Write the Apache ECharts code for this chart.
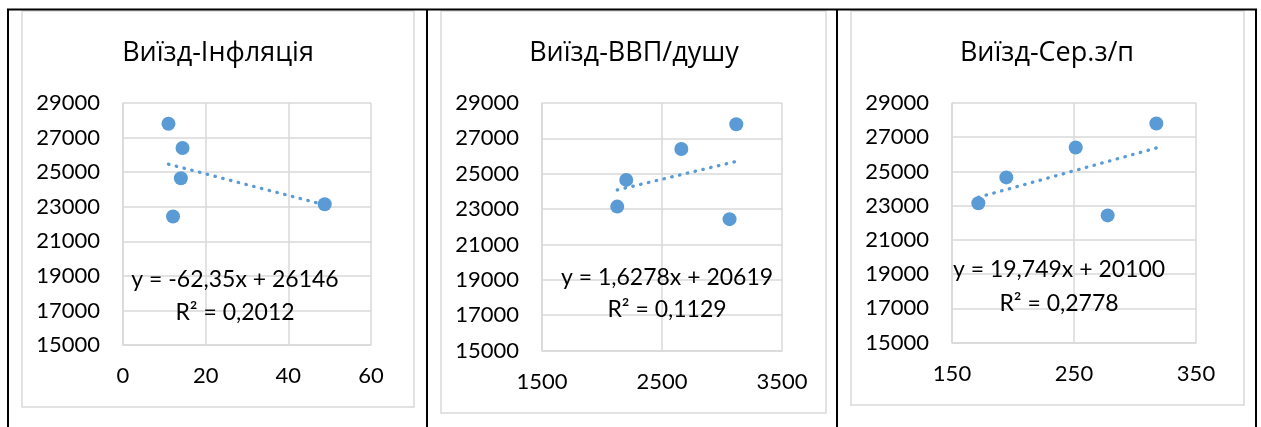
<!DOCTYPE html>
<html><head><meta charset="utf-8">
<script src="https://cdn.jsdelivr.net/npm/echarts@6/dist/echarts.min.js"></script>
<style>html,body{margin:0;padding:0;background:#fff}#c{width:1261px;height:427px}</style>
</head><body><div id="c"></div>
<script>
// Data
const titles = ['Виїзд-Інфляція', 'Виїзд-ВВП/душу', 'Виїзд-Сер.з/п'];
const exits = [27800, 26400, 24650, 22430, 23140];
const inflation = [11.0, 14.4, 14.0, 12.1, 48.8];
const gdpPerCapita = [3119, 2661, 2202, 3063, 2127];
const avgSalary = [317.5, 251.4, 194.5, 277.6, 171.6];
const trendInflation = [[11.0, 25460], [48.8, 23103]];
const trendGdp = [[2127, 24081], [3119, 25696]];
const trendSalary = [[171.6, 23489], [317.5, 26370]];
const equations = ['y = -62,35x + 26146', 'y = 1,6278x + 20619', 'y = 19,749x + 20100'];
const rSquared = ['R² = 0,2012', 'R² = 0,1129', 'R² = 0,2778'];
const xMins = [0, 1500, 150];
const xMaxs = [60, 3500, 350];
const xIntervals = [20, 1000, 100];
const yMin = 15000, yMax = 29000, yInterval = 2000;

const xs = [inflation, gdpPerCapita, avgSalary];
const trends = [trendInflation, trendGdp, trendSalary];

const BLUE = '#5B9BD5';
const GRID = '#D9D9D9';
const FONT = 'Lato, "Open Sans", sans-serif';

const grids = [
  {left: 123, top: 103, width: 248, height: 242},
  {left: 542, top: 103, width: 240, height: 247.5},
  {left: 952, top: 103, width: 244, height: 239.5}
];
const titleCenters = [218, 634, 1047];
const eqCenters = [[235, 279.5, 312.3], [667, 278, 310], [1059, 270, 303.3]];
const boxes = [[22, 11, 414, 407], [441, 11, 826, 413], [851, 11, 1244, 405]];

const chart = echarts.init(document.getElementById('c'), null, {renderer: 'canvas'});

const plain = v => String(v);
const xAxis = [], yAxis = [], series = [], title = [], graphic = [];
for (let i = 0; i < 3; i++) {
  xAxis.push({
    type: 'value', gridIndex: i, min: xMins[i], max: xMaxs[i], interval: xIntervals[i],
    axisLine: {show: true, lineStyle: {color: GRID, width: 1.5}},
    axisTick: {show: false},
    splitLine: {show: true, lineStyle: {color: GRID, width: 1.5}},
    axisLabel: {color: '#000', fontSize: 22, fontFamily: FONT, margin: 20, formatter: plain}
  });
  yAxis.push({
    type: 'value', gridIndex: i, min: yMin, max: yMax, interval: yInterval,
    axisLine: {show: true, lineStyle: {color: GRID, width: 1.5}},
    axisTick: {show: false},
    splitLine: {show: true, lineStyle: {color: GRID, width: 1.5}},
    axisLabel: {color: '#000', fontSize: 22, fontFamily: FONT, margin: 23, formatter: plain}
  });
  series.push({
    type: 'scatter', xAxisIndex: i, yAxisIndex: i, symbolSize: 14,
    itemStyle: {color: BLUE, opacity: 1},
    data: xs[i].map((v, k) => [v, exits[k]]), z: 2
  });
  series.push({
    type: 'line', xAxisIndex: i, yAxisIndex: i, showSymbol: false, symbol: 'none',
    lineStyle: {color: BLUE, width: 3.3, type: [0.5, 7.5], cap: 'round'},
    data: trends[i], z: 3, silent: true
  });
  title.push({
    text: titles[i], left: titleCenters[i], top: 37, textAlign: 'center', padding: 0,
    textStyle: {fontSize: 27, fontWeight: 'normal', color: '#000', fontFamily: '"Open Sans", sans-serif', lineHeight: 32}
  });
  const b = boxes[i];
  graphic.push({type: 'rect', shape: {x: b[0], y: b[1], width: b[2] - b[0], height: b[3] - b[1]},
    style: {fill: null, stroke: GRID, lineWidth: 1.5}, z: 0, silent: true});
  const e = eqCenters[i];
  graphic.push({type: 'text', x: e[0], y: e[1], z: 10,
    style: {text: equations[i], fill: '#000', font: '23px ' + FONT, textAlign: 'center', textVerticalAlign: 'middle'}});
  graphic.push({type: 'text', x: e[0], y: e[2], z: 10,
    style: {text: rSquared[i], fill: '#000', font: '23px ' + FONT, textAlign: 'center', textVerticalAlign: 'middle'}});
}
// table borders
graphic.push({type: 'line', shape: {x1: 7, y1: 9.5, x2: 1257, y2: 9.5}, style: {stroke: '#000', lineWidth: 2}, silent: true});
[8, 427, 837, 1256].forEach(x => {
  graphic.push({type: 'line', shape: {x1: x, y1: 9, x2: x, y2: 427}, style: {stroke: '#000', lineWidth: 2}, silent: true});
});

chart.setOption({
  animation: false,
  title: title,
  grid: grids,
  xAxis: xAxis,
  yAxis: yAxis,
  series: series,
  graphic: graphic
});
</script></body></html>
